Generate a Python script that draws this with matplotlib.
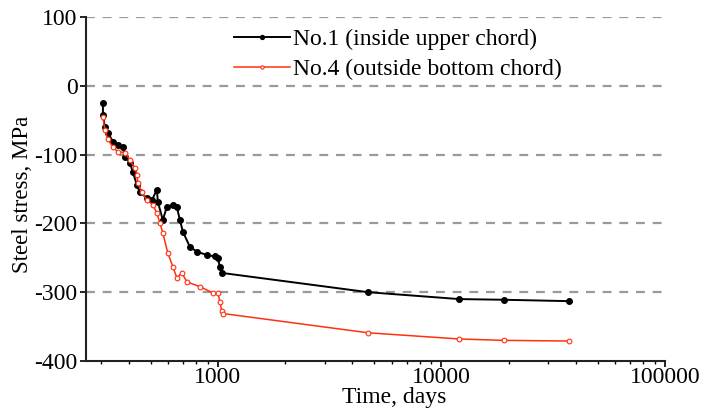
import matplotlib
matplotlib.use('Agg')
import matplotlib.pyplot as plt
from matplotlib.ticker import LogLocator, FixedLocator, NullFormatter

# readings taken off the original figure
days_no1 = [306, 306, 312, 322, 339, 357, 376, 384, 404, 417, 434, 448, 481, 507,
            533, 539, 567, 591, 629, 655, 676, 697, 749, 805, 893, 970, 1000, 1021,
            1042, 4700, 12000, 19000, 37200]
stress_no1 = [-25, -42, -60, -68, -81, -86, -89, -103, -112, -126, -144, -155, -163,
              -166, -151, -169, -195, -176, -173, -176, -195, -212, -234, -241, -246,
              -248, -250, -264, -272, -300, -310, -311, -313]

days_no4 = [306, 312, 322, 339, 357, 384, 404, 425, 434, 439, 457, 481, 512, 533,
            550, 567, 597, 629, 655, 690, 727, 831, 950, 1000, 1021, 1042, 1053,
            4700, 12000, 19000, 37200]
stress_no4 = [-45, -64, -78, -89, -96, -97, -108, -119, -129, -141, -155, -166, -173,
              -185, -199, -214, -243, -263, -279, -272, -285, -292, -301, -301, -314,
              -328, -331, -359, -368, -370, -371]

label_no1 = 'No.1 (inside upper chord)'
label_no4 = 'No.4 (outside bottom chord)'
y_ticks = [-400, -300, -200, -100, 0, 100]
x_ticks = [1000, 10000, 100000]

plt.rcParams['font.family'] = ['Liberation Serif', 'DejaVu Serif']
plt.rcParams['axes.unicode_minus'] = False

fig = plt.figure(figsize=(7.06, 4.12), dpi=100)
ax = fig.add_axes([0.1218, 0.1238, 0.8201, 0.8349])

for y in y_ticks[1:]:
    ax.axhline(y, color='#9a9a9a', linewidth=1.6, linestyle=(0, (4, 3.5)), zorder=1)

ax.plot(days_no1, stress_no1, color='black', linewidth=1.4, marker='o',
        markersize=4, label=label_no1, zorder=3)
ax.plot(days_no4, stress_no4, color='#ff3010', linewidth=1.1, marker='o',
        markersize=3.4, markerfacecolor='white', markeredgewidth=0.8,
        label=label_no4, zorder=4)

ax.set_xscale('log')
ax.set_xlim(257, 100000)
ax.set_ylim(-400, 100)
ax.set_yticks(y_ticks)
ax.xaxis.set_major_locator(FixedLocator(x_ticks))
ax.xaxis.set_minor_locator(LogLocator(base=10, subs=range(2, 10)))
ax.xaxis.set_minor_formatter(NullFormatter())
ax.set_xticklabels([str(v) for v in x_ticks])

for side in ['top', 'right']:
    ax.spines[side].set_visible(False)
for side in ['left', 'bottom']:
    ax.spines[side].set_linewidth(1.5)
    ax.spines[side].set_color('#222222')
ax.tick_params(axis='both', which='major', direction='out', length=4, width=1.2,
               pad=2, labelsize=17)
ax.tick_params(axis='x', which='major', pad=0.5)
ax.tick_params(axis='x', which='minor', direction='out', length=2.5, width=1)

ax.set_xlabel('Time, days', fontsize=17)
ax.xaxis.set_label_coords(0.532, -0.075)
ax.set_ylabel('Steel stress, MPa', fontsize=16.5)
ax.yaxis.set_label_coords(-0.092, 0.483)

leg = fig.legend(loc='upper left', bbox_to_anchor=(222 / 706, 1 - 17 / 412),
                 frameon=False, borderpad=0, handlelength=2.4, handletextpad=0.1,
                 labelspacing=0.35, markerscale=0.7, numpoints=1, fontsize=17)

fig.savefig('out.png', dpi=100)
